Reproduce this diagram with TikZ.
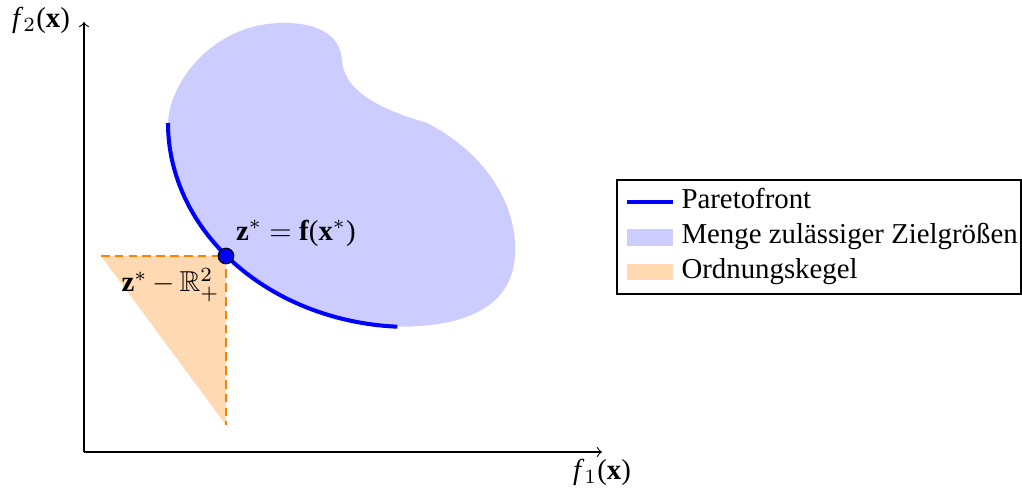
\documentclass[tikz,border=0pt]{standalone}
\usepackage{amssymb}
\usepackage{fontspec}
\setmainfont{Liberation Serif}
\begin{document}
\begin{tikzpicture}[x=0.347pt,y=-0.347pt,font=\fontsize{10}{12}\selectfont,
  blobfill/.style={fill=blue!20},
  conefill/.style={fill=orange!30},
  pareto/.style={draw=blue,line width=1.4pt},
  conedash/.style={draw=orange,line width=0.8pt,dash pattern=on 3pt off 1.8pt},
  axisline/.style={draw=black,line width=0.4pt,->},
  lbl/.style={inner sep=1pt},
  legtext/.style={anchor=base west,inner sep=0pt}]
\useasboundingbox (0,0) rectangle (1022,490);
% feasible set
\fill[blobfill] plot[domain=0:87,samples=40,smooth] ({410-242*cos(\x)},{123+204*sin(\x)})
  .. controls (460,327) and (512,310) .. (515,255)
  .. controls (518,200) and (480,150) .. (427,123)
  .. controls (390,112) and (344,95) .. (342,60)
  .. controls (340,35) and (318,22) .. (280,23)
  .. controls (210,25) and (169,85) .. (168,123) -- cycle;
% ordering cone
\coordinate (cL) at (101,256);
\coordinate (cB) at (226,425);
\coordinate (zs) at (226,256);
\fill[conefill] (cL) -- (zs) -- (cB) -- cycle;
\draw[conedash] (cL) -- (zs) -- (cB);
% Pareto front
\draw[pareto] plot[domain=0:87,samples=60,smooth] ({410-242*cos(\x)},{123+204*sin(\x)});
\node[circle,fill=blue,draw=black,line width=0.4pt,inner sep=0pt,minimum size=5.4pt] (zpt) at (zs) {};
% axes
\coordinate (O) at (84,452);
\coordinate (ytip) at (84,22);
\coordinate (xtip) at (602,452);
\draw[axisline] (O) -- (ytip);
\draw[axisline] (O) -- (xtip);
\node[lbl] (f2) at (41,20) {\textit{f}$_2$(\textbf{x})};
\node[lbl] (f1) at (602,472) {\textit{f}$_1$(\textbf{x})};
% labels
\node[lbl] (zlab) at (296,233) {\textbf{z}$^*$ $=$ \textbf{f}(\textbf{x}$^*$)};
\node[lbl,anchor=east] (clab) at (223,285) {\textbf{z}$^*\,{-}\,\mathbb{R}^2_+$};
% legend
\draw[line width=0.4pt] (617,180) rectangle (1021,294);
\draw[pareto] (627,202) -- (673,202);
\fill[blobfill] (627,229) rectangle (673,246);
\fill[conefill] (627,264) rectangle (673,280);
\node[legtext] (l1) at (681,209) {Paretofront};
\node[legtext] (l2) at (681,244) {Menge zulässiger Zielgrößen};
\node[legtext] (l3) at (681,279) {Ordnungskegel};
\end{tikzpicture}
\end{document}
